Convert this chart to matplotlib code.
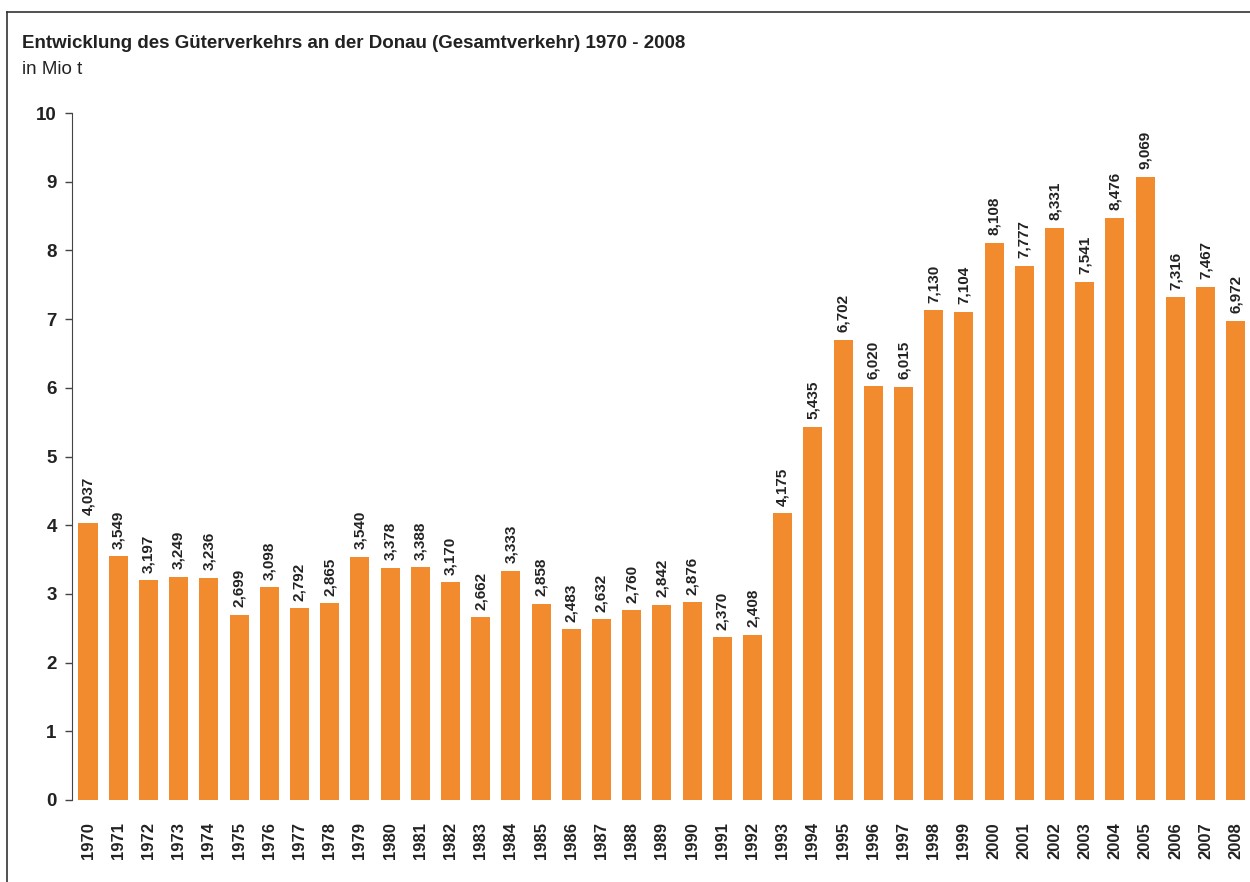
import matplotlib
matplotlib.use('Agg')
import matplotlib.pyplot as plt
from matplotlib.lines import Line2D
from matplotlib import font_manager

# data (Mio t)
years = list(range(1970, 2009))
values = [4.037, 3.549, 3.197, 3.249, 3.236, 2.699, 3.098, 2.792, 2.865, 3.540,
          3.378, 3.388, 3.170, 2.662, 3.333, 2.858, 2.483, 2.632, 2.760, 2.842,
          2.876, 2.370, 2.408, 4.175, 5.435, 6.702, 6.020, 6.015, 7.130, 7.104,
          8.108, 7.777, 8.331, 7.541, 8.476, 9.069, 7.316, 7.467, 6.972]

names = {f.name for f in font_manager.fontManager.ttflist}
narrow = 'Liberation Sans Narrow' if 'Liberation Sans Narrow' in names else 'Liberation Sans'
plt.rcParams['font.family'] = [narrow, 'DejaVu Sans']

col = '#F28A2E'
txt = '#222222'

fig = plt.figure(figsize=(12.5, 8.82), dpi=100)
ax = fig.add_axes([72/1250, 1-800/882, 1-72/1250, (800-113)/882])

x = list(range(len(years)))
ax.bar(x, values, width=0.63, color=col, zorder=2)

for xi, v in zip(x, values):
    s = ('%.3f' % v).replace('.', ',')
    ax.text(xi, v + 0.11, s, rotation=90, ha='center', va='bottom',
            fontsize=11, fontweight='bold', color=txt, family='Liberation Sans')

ax.set_xlim(-0.53, len(years) - 0.53)
ax.set_ylim(0, 10)
ax.set_yticks(range(0, 11))
ax.set_yticklabels([str(i) for i in range(0, 11)], fontsize=13.5, fontweight='bold', color=txt)
ax.set_xticks(x)
ax.set_xticklabels([str(y) for y in years], rotation=90, fontsize=12, fontweight='bold',
                   color=txt, family='Liberation Sans')
ax.tick_params(axis='x', length=0, pad=16)
ax.tick_params(axis='y', length=5, width=1, color='#444444', pad=6)
for sp in ['top', 'right', 'bottom']:
    ax.spines[sp].set_visible(False)
ax.spines['left'].set_color('#444444')

fig.text(22/1250, 1-43/882, 'Entwicklung des Güterverkehrs an der Donau (Gesamtverkehr) 1970 - 2008',
         fontsize=13.5, fontweight='bold', color=txt, va='center', ha='left')
fig.text(22/1250, 1-70/882, 'in Mio t', fontsize=13.5, color=txt, va='center', ha='left')

# frame lines (top and left)
fig.add_artist(Line2D([7/1250, 1], [1-12/882, 1-12/882], color='#333333', lw=1.2))
fig.add_artist(Line2D([7/1250, 7/1250], [0, 1-12/882], color='#333333', lw=1.2))

fig.savefig('out.png', dpi=100)
